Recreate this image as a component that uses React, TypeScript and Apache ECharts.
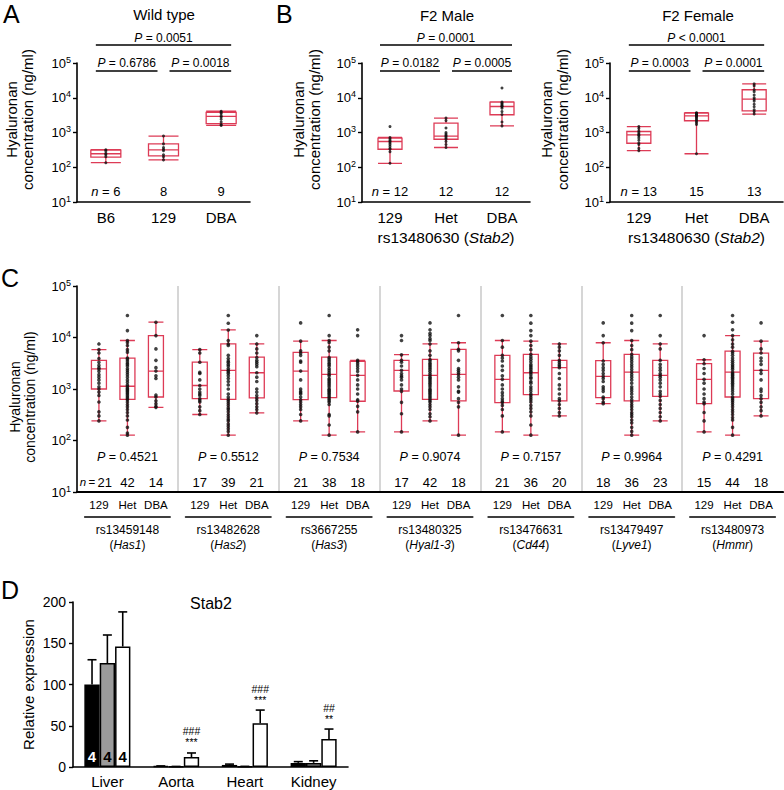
import React, { useEffect, useRef } from 'react';
import * as echarts from 'echarts';

const FONT = '"Liberation Sans", Arial, Helvetica, sans-serif';
const RED = '#dd3b56';

// ---------- Panel A (Wild type) ----------
const aCats = ['B6', '129', 'DBA'];
const aBox = [
  [135, 195, 245, 310, 320],
  [163, 213, 316, 470, 790],
  [1600, 1800, 2900, 3800, 4100],
];
const aDots = [
  [320, 295, 250, 230, 200, 135],
  [790, 470, 370, 330, 300, 230, 200, 163],
  [4100, 3800, 3500, 3000, 2800, 2400, 2000, 1700, 1600],
];
const aN = ['6', '8', '9'];
const aP = ['= 0.0051', '= 0.6786', '= 0.0018'];

// ---------- Panel B (F2 Male / Female) ----------
const bCats = ['129', 'Het', 'DBA'];
const bmBox = [
  [130, 330, 550, 690, 720],
  [370, 640, 790, 1860, 2600],
  [1550, 3240, 5600, 7500, 7600],
];
const bmDots = [
  [1480, 720, 650, 580, 550, 500, 450, 400, 350, 330, 280, 130],
  [2600, 2200, 1350, 1000, 900, 820, 780, 700, 640, 550, 450, 370],
  [19000, 7500, 7000, 6500, 6000, 5700, 5500, 5000, 4000, 3300, 2000, 1550],
];
const bmN = ['12', '12', '12'];
const bmP = ['= 0.0001', '= 0.0182', '= 0.0005'];

const bfBox = [
  [300, 490, 850, 1070, 1480],
  [245, 2180, 3000, 3600, 3700],
  [3400, 4200, 9100, 17000, 25000],
];
const bfDots = [
  [1480, 1300, 1100, 1000, 900, 850, 800, 700, 600, 500, 450, 350, 300],
  [3700, 3600, 3500, 3300, 3200, 3100, 3000, 2900, 2700, 2500, 2300, 2100, 1900, 1700, 245],
  [25000, 22000, 17000, 15000, 12000, 10000, 9000, 8000, 6500, 5500, 4500, 4000, 3400],
];
const bfN = ['13', '15', '13'];
const bfP = ['< 0.0001', '= 0.0003', '= 0.0001'];
const bSnp = 'rs13480630';
const bGene = 'Stab2';

// ---------- Panel C ----------
const cCats = ['129', 'Het', 'DBA'];
const cRs = ['rs13459148', 'rs13482628', 'rs3667255', 'rs13480325', 'rs13476631', 'rs13479497', 'rs13480973'];
const cGene = ['Has1', 'Has2', 'Has3', 'Hyal1-3', 'Cd44', 'Lyve1', 'Hmmr'];
const cP = ['0.4521', '0.5512', '0.7534', '0.9074', '0.7157', '0.9964', '0.4291'];
const cN = [
  ['21', '42', '14'], ['17', '39', '21'], ['21', '38', '18'], ['17', '42', '18'],
  ['21', '36', '20'], ['18', '36', '23'], ['15', '44', '18'],
];
const cBox = [
  [[240, 1000, 2450, 3600, 5800], [127, 630, 1130, 3980, 8750], [440, 700, 2230, 10900, 19800]],
  [[320, 650, 1170, 3330, 5800], [127, 630, 2300, 7550, 14100], [344, 670, 2070, 4160, 7550]],
  [[240, 623, 2230, 5130, 8470], [127, 680, 1920, 4160, 8750], [147, 578, 1840, 3440, 3590]],
  [[147, 914, 2300, 3590, 4630], [240, 630, 1840, 3750, 7550], [127, 587, 1920, 5870, 7900]],
  [[147, 546, 1540, 4490, 8750], [127, 780, 2070, 4690, 8470], [300, 587, 2590, 3590, 7550]],
  [[520, 680, 1760, 3550, 7900], [127, 587, 2130, 4690, 8750], [240, 720, 1840, 3590, 7550]],
  [[147, 520, 1540, 3100, 3700], [127, 700, 2130, 5430, 10900], [300, 650, 2300, 4970, 8470]],
];
const cDots = [
  [
    [7500, 5800, 5000, 3900, 3300, 2900, 2600, 2450, 2200, 1900, 1700, 1500, 1300, 1100, 1000, 870, 750, 560, 360, 300, 240],
    [26700, 13600, 8750, 8000, 7000, 5800, 5200, 4000, 3800, 3500, 3200, 3000, 2800, 2500, 2300, 2100, 1900, 1700, 1500, 1350, 1200, 1130, 1050, 1000, 950, 900, 850, 800, 750, 700, 650, 620, 560, 500, 450, 400, 350, 300, 250, 180, 140, 127],
    [19800, 10900, 6000, 3600, 2600, 2230, 1800, 1600, 760, 700, 590, 520, 460, 440],
  ],
  [
    [5800, 5000, 3300, 2100, 2000, 1500, 1170, 1000, 870, 800, 750, 650, 600, 560, 450, 380, 320],
    [26700, 18900, 14000, 8750, 7500, 7000, 4500, 3900, 3500, 3300, 3000, 2800, 2500, 2300, 2150, 2000, 1800, 1600, 1400, 1200, 1000, 800, 700, 630, 580, 530, 480, 430, 400, 360, 320, 290, 260, 240, 210, 190, 170, 150, 127],
    [10900, 7500, 6000, 5000, 4100, 3600, 3300, 3000, 2700, 2070, 1700, 1400, 1000, 870, 750, 670, 600, 520, 450, 400, 344],
  ],
  [
    [19200, 8500, 5500, 5000, 4500, 3500, 3300, 2230, 1500, 1000, 900, 850, 800, 700, 620, 560, 500, 450, 400, 320, 240],
    [26700, 10900, 8750, 8000, 6500, 5500, 4100, 3800, 3500, 3200, 3000, 2800, 2500, 2300, 2100, 1920, 1800, 1600, 1500, 1400, 1300, 1200, 1100, 1000, 950, 900, 850, 800, 750, 700, 650, 600, 560, 500, 320, 300, 200, 127],
    [14100, 10900, 3600, 3400, 3100, 2800, 2500, 2200, 1840, 1500, 1200, 1000, 800, 620, 580, 460, 360, 147],
  ],
  [
    [10900, 8750, 4600, 3600, 3300, 2800, 2300, 2000, 1800, 1700, 1500, 1200, 1000, 900, 550, 330, 147],
    [19200, 14100, 12000, 10900, 9500, 8750, 7500, 5500, 4500, 3750, 3500, 3200, 3000, 2800, 2600, 2400, 2200, 2000, 1840, 1700, 1600, 1500, 1400, 1300, 1200, 1100, 1000, 950, 900, 850, 800, 750, 700, 650, 600, 560, 500, 450, 400, 330, 290, 240],
    [26700, 7900, 5900, 5500, 3600, 2500, 2300, 2100, 1920, 1700, 1500, 1100, 900, 870, 650, 550, 450, 127],
  ],
  [
    [26700, 8750, 6500, 4500, 4000, 3500, 2800, 2300, 1800, 1540, 1200, 1000, 850, 750, 650, 580, 546, 480, 400, 300, 147],
    [26700, 19000, 13600, 10900, 8500, 7000, 5800, 4700, 4200, 3800, 3400, 3000, 2800, 2600, 2400, 2200, 2070, 1900, 1700, 1600, 1400, 1300, 1100, 1000, 900, 800, 750, 680, 620, 560, 480, 420, 360, 300, 200, 127],
    [7500, 6500, 5500, 4500, 3600, 3300, 3000, 2800, 2590, 2000, 1600, 1200, 1000, 800, 650, 587, 500, 420, 350, 300],
  ],
  [
    [19200, 10900, 7900, 3500, 3000, 2600, 2300, 2000, 1760, 1600, 1400, 1100, 1000, 900, 700, 650, 560, 520],
    [26700, 19000, 13600, 8750, 7000, 5800, 4700, 4200, 3800, 3400, 3000, 2700, 2400, 2130, 1900, 1700, 1500, 1300, 1100, 1000, 900, 800, 700, 620, 560, 500, 450, 400, 350, 320, 290, 250, 220, 180, 150, 127],
    [26700, 10900, 7500, 6000, 3600, 3000, 2600, 2300, 2000, 1840, 1700, 1500, 1300, 1100, 900, 800, 720, 600, 500, 420, 350, 290, 240],
  ],
  [
    [10900, 3700, 3100, 2500, 2000, 1540, 1300, 1000, 800, 650, 560, 520, 350, 240, 147],
    [26700, 19800, 14100, 10900, 9000, 7500, 6500, 5400, 5000, 4500, 4000, 3600, 3300, 3000, 2800, 2600, 2400, 2130, 2000, 1900, 1800, 1700, 1600, 1500, 1400, 1300, 1200, 1100, 1000, 900, 800, 700, 650, 600, 550, 500, 450, 400, 360, 320, 280, 250, 180, 127],
    [19200, 8500, 6000, 5000, 4000, 3500, 3000, 2300, 2000, 1500, 1000, 900, 750, 650, 550, 450, 380, 300],
  ],
];

// ---------- Panel D ----------
const dCats = ['Liver', 'Aorta', 'Heart', 'Kidney'];
const dSeriesNames = ['Black', 'Grey', 'White'];
const dMean = [
  [100, 1, 2.5, 5],
  [126, 0.5, 0.5, 5],
  [146, 12, 53, 34],
];
const dErrTop = [
  [130, 1.3, 3.5, 6.5],
  [160, 0.7, 0.8, 7.5],
  [188, 17, 69, 46],
];
const dMarks = ['', '###\n***', '###\n***', '##\n**'];
const dBarN = ['4', '4', '4'];
const dYTicks = [0, 200, 50];

// ---------- layout ----------
const gA = { left: 77, top: 63, width: 173, height: 139 };
const gBM = { left: 362, top: 63, width: 168, height: 139 };
const gBF = { left: 610, top: 63, width: 173, height: 139 };
const gC = { left: 77, top: 286, width: 706, height: 206 };
const C_SUB_W = 85.5;
const gD = { left: 73, top: 602, width: 275, height: 165 };
const dColors = ['#000000', '#9b9b9b', '#ffffff'];

const catX = (g: any, i: number, n = 3) => g.left + (g.width * (i + 0.5)) / n;
const subGrid = (k: number) => {
  const center = gC.left + ((k + 0.5) * gC.width) / 7;
  return { left: center - C_SUB_W / 2, top: gC.top, width: C_SUB_W, height: gC.height };
};

const richI = (size: number) => ({
  i: { fontStyle: 'italic', fontSize: size, fontFamily: FONT, fill: '#000', color: '#000' },
  s: { fontSize: 11.5, fontFamily: FONT, fill: '#000', color: '#000' },
  si: { fontStyle: 'italic', fontSize: 11.5, fontFamily: FONT, fill: '#000', color: '#000' },
});

function text(x: number, y: number, t: string, size: number, extra: any = {}) {
  const align = extra.align || 'center';
  const va = extra.va || 'middle';
  return {
    type: 'text',
    x,
    y,
    silent: true,
    style: {
      text: t,
      fontSize: size,
      fontFamily: FONT,
      fontWeight: extra.weight || 'normal',
      fill: '#000',
      align,
      verticalAlign: va,
      textAlign: align,
      textVerticalAlign: va,
      rich: richI(size),
    },
  };
}

function hline(x1: number, x2: number, y: number, w = 1.5) {
  return { type: 'line', silent: true, shape: { x1, y1: y, x2, y2: y }, style: { stroke: '#000', lineWidth: w } };
}

const logAxisLabel = {
  formatter: (v: number) => '10{sup|' + Math.round(Math.log10(v)) + '}',
  color: '#000',
  fontFamily: FONT,
  fontSize: 13,
  lineHeight: 16,
  margin: 6,
  rich: { sup: { fontSize: 9, fontFamily: FONT, color: '#000', verticalAlign: 'top', lineHeight: 9 } },
};

const NAME_HA = 'Hyaluronan\nconcentration (ng/ml)';

function logY(gridIndex: number, show: boolean, nameOpts: any = null) {
  const ax: any = {
    type: 'log',
    logBase: 10,
    min: 10,
    max: 100000,
    splitNumber: 4,
    gridIndex,
    show,
    axisLine: { show: true, lineStyle: { color: '#000', width: 1.6 } },
    axisTick: { show: true, length: 4, inside: false, lineStyle: { color: '#000', width: 1.4 } },
    minorTick: { show: false },
    splitLine: { show: false },
    axisLabel: logAxisLabel,
  };
  if (nameOpts) {
    ax.name = NAME_HA;
    ax.nameLocation = 'middle';
    ax.nameGap = nameOpts.gap;
    ax.nameMoveOverlap = false;
    ax.nameTextStyle = {
      fontFamily: FONT,
      fontSize: nameOpts.size,
      color: '#000',
      lineHeight: nameOpts.size + 1.5,
      padding: nameOpts.padding,
    };
  }
  return ax;
}

function catAxis(gridIndex: number, data: string[], extra: any = {}) {
  return {
    type: 'category',
    gridIndex,
    data,
    axisLine: { show: true, onZero: false, lineStyle: { color: '#000', width: 1.6 } },
    axisTick: { show: false },
    splitLine: { show: false },
    axisLabel: { color: '#000', fontFamily: FONT, fontSize: 15, margin: 8, interval: 0 },
    ...extra,
  };
}

function boxSeries(xi: number, yi: number, data: number[][], width: number) {
  return {
    type: 'boxplot',
    xAxisIndex: xi,
    yAxisIndex: yi,
    data,
    boxWidth: [width, width],
    silent: true,
    z: 2,
    itemStyle: { color: 'rgba(255,255,255,0)', borderColor: RED, borderWidth: 1.3 },
  };
}

function dotSeries(xi: number, yi: number, groups: number[][], size: number) {
  return {
    type: 'scatter',
    xAxisIndex: xi,
    yAxisIndex: yi,
    symbolSize: size,
    silent: true,
    z: 3,
    itemStyle: { color: '#111' },
    data: groups.flatMap((arr, i) => arr.map((v) => [i, v])),
  };
}

function buildOption() {
  const grids: any[] = [gA, gBM, gBF, gC];
  for (let k = 0; k < 7; k++) grids.push(subGrid(k));
  grids.push(gD);
  const grid = grids.map((g) => ({ ...g, containLabel: false, outerBoundsMode: 'none' }));

  const snpName = bSnp + ' ({i|' + bGene + '})';
  const snpStyle = {
    fontFamily: FONT, fontSize: 15.5, color: '#000',
    rich: { i: { fontStyle: 'italic', fontFamily: FONT, fontSize: 15.5, color: '#000' } },
  };
  const xAxis: any[] = [
    catAxis(0, aCats),
    catAxis(1, bCats, { name: snpName, nameLocation: 'middle', nameGap: 27, nameMoveOverlap: false, nameTextStyle: snpStyle }),
    catAxis(2, bCats, { name: snpName, nameLocation: 'middle', nameGap: 27, nameMoveOverlap: false, nameTextStyle: snpStyle }),
    {
      type: 'value', gridIndex: 3, min: 0, max: 7, interval: 1,
      axisLine: { show: true, onZero: false, lineStyle: { color: '#000', width: 2.2 } },
      axisTick: { show: false }, axisLabel: { show: false },
      splitLine: { show: true, showMinLine: false, showMaxLine: false, lineStyle: { color: '#c8c8c8', width: 1.5 } },
    },
  ];
  for (let k = 0; k < 7; k++) {
    xAxis.push(catAxis(4 + k, cCats, {
      axisLine: { show: false },
      axisLabel: { color: '#000', fontFamily: FONT, fontSize: 11.5, margin: 7, interval: 0 },
    }));
  }
  for (let k = 0; k < 7; k++) {
    xAxis.push({
      type: 'category', gridIndex: 4 + k, data: cCats, position: 'bottom', offset: 25,
      axisLine: { show: true, onZero: false, lineStyle: { color: '#000', width: 1.6 } },
      axisTick: { show: false }, axisLabel: { show: false }, splitLine: { show: false },
      name: cRs[k] + '\n({i|' + cGene[k] + '})', nameLocation: 'middle', nameGap: 5, nameMoveOverlap: false,
      nameTextStyle: {
        fontFamily: FONT, fontSize: 12, color: '#000', lineHeight: 15, verticalAlign: 'top',
        rich: { i: { fontStyle: 'italic', fontFamily: FONT, fontSize: 12, color: '#000', lineHeight: 15 } },
      },
    });
  }
  xAxis.push(catAxis(11, dCats, { axisLabel: { color: '#000', fontFamily: FONT, fontSize: 15, margin: 7, interval: 0 } }));

  const yAxis: any[] = [
    logY(0, true, { gap: 41, size: 15, padding: [0, 0, 0, 26] }),
    logY(1, true, { gap: 39, size: 15, padding: [0, 0, 0, 26] }),
    logY(2, true, { gap: 39, size: 15, padding: [0, 0, 0, 26] }),
    logY(3, true, { gap: 39, size: 14, padding: [0, 16, 0, 0] }),
  ];
  for (let k = 0; k < 7; k++) yAxis.push(logY(4 + k, false));
  yAxis.push({
    type: 'value', gridIndex: 11, min: dYTicks[0], max: dYTicks[1], interval: dYTicks[2],
    axisLine: { show: true, lineStyle: { color: '#000', width: 1.6 } },
    axisTick: { show: true, length: 4, lineStyle: { color: '#000', width: 1.4 } },
    splitLine: { show: false },
    axisLabel: { color: '#000', fontFamily: FONT, fontSize: 14, margin: 7 },
    name: 'Relative expression', nameLocation: 'middle', nameGap: 37, nameMoveOverlap: false,
    nameTextStyle: { fontFamily: FONT, fontSize: 15, color: '#000' },
  });

  const series: any[] = [
    boxSeries(0, 0, aBox, 30), dotSeries(0, 0, aDots, 3),
    boxSeries(1, 1, bmBox, 24), dotSeries(1, 1, bmDots, 3),
    boxSeries(2, 2, bfBox, 24), dotSeries(2, 2, bfDots, 3),
  ];
  for (let k = 0; k < 7; k++) {
    series.push(boxSeries(4 + k, 4 + k, cBox[k], 15));
    series.push(dotSeries(4 + k, 4 + k, cDots[k], 3.6));
  }
  // Panel D bars
  dMean.forEach((vals, s) => {
    series.push({
      type: 'bar', name: dSeriesNames[s], xAxisIndex: 18, yAxisIndex: 11,
      barGap: '0%', barCategoryGap: '33%', silent: true,
      itemStyle: { color: dColors[s], borderColor: '#000', borderWidth: 1.5 },
      label: {
        show: false, position: 'insideBottom', distance: 3, formatter: dBarN[s],
        fontSize: 15, fontWeight: 'bold', fontFamily: FONT, color: s === 0 ? '#fff' : '#000',
      },
      data: vals.map((v, i) => ({ value: v, label: { show: i === 0 } })),
    });
  });
  dMean.forEach((vals, s) => {
    series.push({
      type: 'custom', xAxisIndex: 18, yAxisIndex: 11, silent: true, z: 4,
      itemStyle: { color: '#000' },
      encode: { x: 0, y: [1, 2] },
      data: vals.map((v, i) => [i, v, dErrTop[s][i]]),
      renderItem: (params: any, api: any) => {
        const ci = api.value(0);
        const m = api.value(1);
        const t = api.value(2);
        const band = api.size([1, 0])[0];
        const bw = (band * 0.67) / 3;
        const p1 = api.coord([ci, m]);
        const p2 = api.coord([ci, t]);
        const cx = p1[0] + (s - 1) * bw;
        const half = 4.5;
        const children: any[] = [
          { type: 'line', shape: { x1: cx, y1: p1[1], x2: cx, y2: p2[1] }, style: { stroke: '#000', lineWidth: 1.6 } },
          { type: 'line', shape: { x1: cx - half, y1: p2[1], x2: cx + half, y2: p2[1] }, style: { stroke: '#000', lineWidth: 1.6 } },
        ];
        const mark = s === 2 ? dMarks[params.dataIndex] : '';
        if (mark) {
          children.push({
            type: 'text', x: cx, y: p2[1] - 5,
            style: {
              text: mark, fontSize: 10.5, lineHeight: 11, fontFamily: FONT, fill: '#000',
              align: 'center', verticalAlign: 'bottom',
            },
          });
        }
        return { type: 'group', children };
      },
    });
  });

  // ---------- graphic annotations ----------
  const graphic: any[] = [];
  graphic.push(text(3, 1, 'A', 25, { align: 'left', va: 'top' }));
  graphic.push(text(276, 1, 'B', 25, { align: 'left', va: 'top' }));
  graphic.push(text(1, 265, 'C', 25, { align: 'left', va: 'top' }));
  graphic.push(text(1, 577, 'D', 25, { align: 'left', va: 'top' }));
  graphic.push(text(164, 14, 'Wild type', 15));
  graphic.push(text(447, 15, 'F2 Male', 15));
  graphic.push(text(698, 15, 'F2 Female', 15));
  graphic.push(text(211, 603, 'Stab2', 16));

  const brackets = [[0, 2, 0], [0, 1, 1], [1, 2, 1]];
  const rowText = [38, 63];
  const rowLine = [45, 71];
  const addBrackets = (g: any, pTexts: string[]) => {
    brackets.forEach(([from, to, row], j) => {
      const l = catX(g, from) + (from === 1 ? 6 : -10);
      const r = catX(g, to) + (to === 1 ? -6 : 10);
      graphic.push(hline(l, r, rowLine[row], 1.5));
      graphic.push(text((l + r) / 2, rowText[row], '{i|P} ' + pTexts[j], 12));
    });
  };
  addBrackets(gA, aP);
  addBrackets(gBM, bmP);
  addBrackets(gBF, bfP);

  const addN = (g: any, ns: string[], y: number, size: number) => {
    ns.forEach((n, i) => graphic.push(text(catX(g, i), y, i === 0 ? '{i|n} = ' + n : n, size)));
  };
  addN(gA, aN, 191, 13);
  addN(gBM, bmN, 191, 13);
  addN(gBF, bfN, 191, 13);
  for (let k = 0; k < 7; k++) {
    const sg = subGrid(k);
    graphic.push(text(sg.left + sg.width / 2, 457, '{i|P} = ' + cP[k], 12.5));
    cN[k].forEach((n, i) => {
      if (k === 0 && i === 0) {
        graphic.push(text(catX(sg, i) + 13, 482, '{si|n}{s|\u2009=\u2009}' + n, 13, { align: 'right' }));
      } else {
        graphic.push(text(catX(sg, i), 482, n, 13));
      }
    });
  }

  return {
    animation: false,
    backgroundColor: '#ffffff',
    textStyle: { fontFamily: FONT },
    grid,
    xAxis,
    yAxis,
    series,
    graphic,
  };
}

export default function App() {
  const ref = useRef<HTMLDivElement>(null);
  useEffect(() => {
    if (!ref.current) return;
    const chart = echarts.init(ref.current, undefined, { renderer: 'svg' });
    chart.setOption(buildOption() as any);
    return () => chart.dispose();
  }, []);
  return (
    <div
      ref={ref}
      style={{ position: 'fixed', left: 0, top: 0, width: 784, height: 790, background: '#fff' }}
    />
  );
}
